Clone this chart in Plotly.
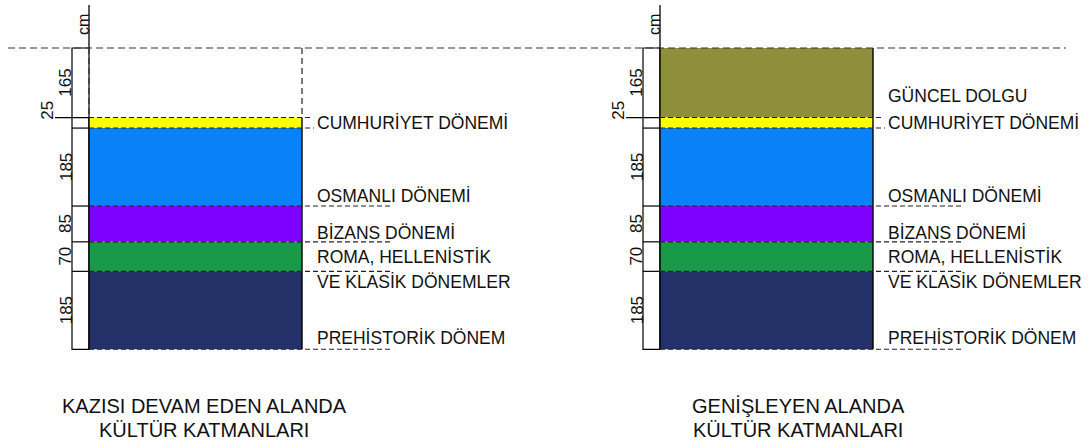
import plotly.graph_objects as go

# ---------------- data ----------------
layer_names = ["GÜNCEL DOLGU", "CUMHURİYET DÖNEMİ", "OSMANLI DÖNEMİ", "BİZANS DÖNEMİ",
               "ROMA, HELLENİSTİK VE KLASİK DÖNEMLER", "PREHİSTORİK DÖNEM"]
thickness_cm = [165, 25, 185, 85, 70, 185]
layer_colors = ["#8e8f3a", "#ffff00", "#0a82f7", "#8000ff", "#199a48", "#233168"]
left_filled = [False, True, True, True, True, True]
right_filled = [True, True, True, True, True, True]
captions_left = ["KAZISI DEVAM EDEN ALANDA", "KÜLTÜR KATMANLARI"]
captions_right = ["GENİŞLEYEN ALANDA", "KÜLTÜR KATMANLARI"]
depth_unit = "cm"

# ---------------- derived ----------------
tops = []
acc = 0
for t in thickness_cm:
    tops.append(acc)
    acc += t
total = acc
bottoms = [a + b for a, b in zip(tops, thickness_cm)]

FONT = "Liberation Sans, Arial, sans-serif"
PX_PER_CM = 0.4214
TOP_PX = 48
H = 445
W = 1088
y_top = -TOP_PX / PX_PER_CM
y_bot = (H - TOP_PX) / PX_PER_CM

fig = go.Figure()
shapes = []
annotations = []

COL_W = 213
SCALE_W = 17
LAB_SIZE = 17.5


def panel(x0, filled, show_fill_label):
    col_l = x0
    col_r = x0 + COL_W
    sc_l = x0 - SCALE_W
    # bars
    for i, (top, th, col, f) in enumerate(zip(tops, thickness_cm, layer_colors, filled)):
        if not f:
            continue
        fig.add_trace(go.Bar(x=[(col_l + col_r) / 2], y=[th], base=[top], width=[COL_W],
                             marker=dict(color=col, line=dict(width=0)),
                             showlegend=False, hoverinfo="skip"))
    # scale bar
    shapes.append(dict(type="rect", x0=sc_l, x1=col_l, y0=0, y1=total,
                       line=dict(color="black", width=1.2), fillcolor="white", layer="below"))
    for i, b in enumerate(bottoms[:-1]):
        x_start = sc_l - 17 if i == 0 else sc_l
        shapes.append(dict(type="line", x0=x_start, x1=col_l, y0=b, y1=b,
                           line=dict(color="black", width=1.2)))
    # depth labels
    for i, (top, th) in enumerate(zip(tops, thickness_cm)):
        if th < 40:
            annotations.append(dict(x=sc_l - 24, y=top + th / 2, text=str(th), textangle=-90,
                                    showarrow=False, xanchor="center", yanchor="middle",
                                    yshift=12, font=dict(size=17, color="#111", family=FONT)))
        else:
            annotations.append(dict(x=sc_l - 6, y=top + th / 2, text=str(th), textangle=-90,
                                    showarrow=False, xanchor="center", yanchor="middle",
                                    font=dict(size=17, color="#111", family=FONT)))
    # cm axis
    shapes.append(dict(type="line", x0=col_l, x1=col_l, y0=y_top + 12, y1=0,
                       line=dict(color="black", width=1.3)))
    annotations.append(dict(x=col_l - 6, y=0, yshift=23, text=depth_unit, textangle=-90,
                            showarrow=False, xanchor="center", yanchor="middle",
                            font=dict(size=16, color="#111", family=FONT)))
    # column sides
    first_solid = 0 if filled[0] else bottoms[0]
    if not filled[0]:
        for xx in (col_l, col_r):
            shapes.append(dict(type="line", x0=xx, x1=xx, y0=0, y1=bottoms[0],
                               line=dict(color="#333", width=1.3, dash="6px,4px")))
    for xx in (col_l, col_r):
        shapes.append(dict(type="line", x0=xx, x1=xx, y0=first_solid, y1=total,
                           line=dict(color="black", width=1.4)))
    # layer boundaries (dashed)
    for i, b in enumerate(bottoms):
        if i == 0:
            ext = col_r + 8
        elif i == 1:
            ext = col_r + 12
        else:
            ext = col_r + 90
        shapes.append(dict(type="line", x0=col_l, x1=ext, y0=b, y1=b,
                           line=dict(color="#222", width=1.1, dash="5px,3px")))
    # labels
    lx = col_r + 13
    lab = dict(showarrow=False, xanchor="left", font=dict(size=LAB_SIZE, color="#111", family=FONT))
    if show_fill_label:
        annotations.append(dict(x=lx, y=bottoms[0], yanchor="middle", yshift=22,
                                text=layer_names[0], **lab))
    annotations.append(dict(x=lx, y=bottoms[1], yanchor="middle", yshift=5,
                            text=layer_names[1], **lab))
    annotations.append(dict(x=lx, y=bottoms[2], yanchor="middle", yshift=10,
                            text=layer_names[2], **lab))
    annotations.append(dict(x=lx, y=bottoms[3], yanchor="middle", yshift=9,
                            text=layer_names[3], **lab))
    parts = layer_names[4].split(" VE ")
    annotations.append(dict(x=lx, y=bottoms[4], yanchor="middle", yshift=14,
                            text=parts[0], **lab))
    annotations.append(dict(x=lx, y=bottoms[4], yanchor="middle", yshift=-11,
                            text="VE " + parts[1], **lab))
    annotations.append(dict(x=lx, y=bottoms[5], yanchor="middle", yshift=11,
                            text=layer_names[5], **lab))


panel(89, left_filled, False)
panel(660, right_filled, True)

# top ground line
shapes.append(dict(type="line", x0=8, x1=1066, y0=0, y1=0,
                   line=dict(color="#333", width=1.2, dash="7px,4px")))

# captions
cap = dict(showarrow=False, xanchor="center", yanchor="middle",
           font=dict(size=20, color="#111", family=FONT))
for cx, lines in ((204, captions_left), (798, captions_right)):
    annotations.append(dict(x=cx, y=total, yshift=-57, text=lines[0], **cap))
    annotations.append(dict(x=cx, y=total, yshift=-81, text=lines[1], **cap))

fig.update_layout(
    width=W, height=H, margin=dict(l=0, r=0, t=0, b=0),
    paper_bgcolor="white", plot_bgcolor="white",
    barmode="overlay", showlegend=False,
    xaxis=dict(range=[0, W], visible=False, fixedrange=True),
    yaxis=dict(range=[y_bot, y_top], visible=False, fixedrange=True),
    shapes=shapes, annotations=annotations,
)

fig.write_html("out.html", config={"displayModeBar": False},
               post_script="document.body.style.margin='0';document.body.style.overflow='hidden';")
